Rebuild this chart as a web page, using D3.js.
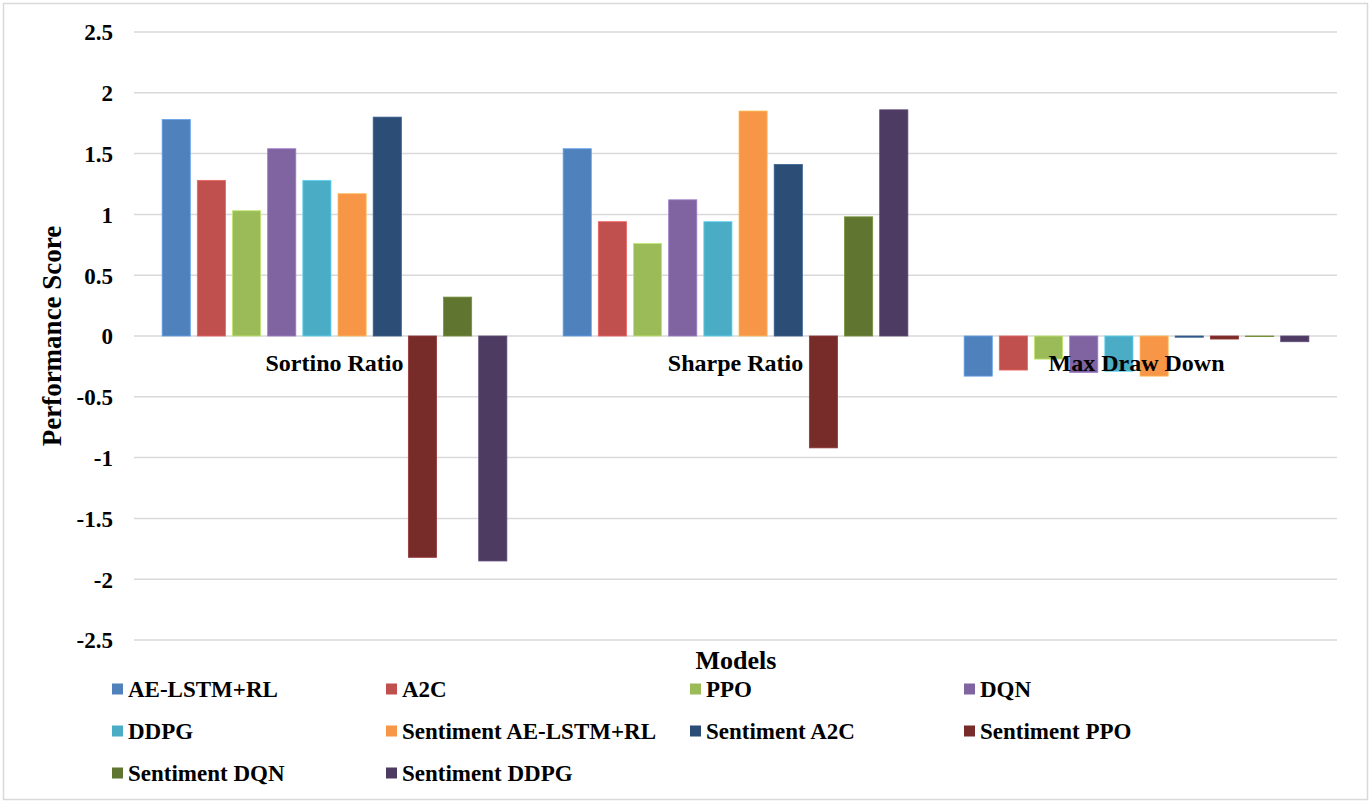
<!DOCTYPE html>
<html>
<head>
<meta charset="utf-8">
<script src="https://cdn.jsdelivr.net/npm/d3@7"></script>
<style>
  html, body { margin: 0; padding: 0; background: #fff; }
  svg text { font-family: "Liberation Serif", "Times New Roman", serif; font-weight: bold; fill: #000; }
</style>
</head>
<body>
<svg id="chart" width="1371" height="803"></svg>
<script>
// Metric groups on the x axis
const categories = ["Sortino Ratio", "Sharpe Ratio", "Max Draw Down"];

// Model series, in legend order
const seriesNames = [
  "AE-LSTM+RL", "A2C", "PPO", "DQN", "DDPG",
  "Sentiment AE-LSTM+RL", "Sentiment A2C", "Sentiment PPO", "Sentiment DQN", "Sentiment DDPG"
];

const seriesColors = [
  "#4F81BD", "#C0504D", "#9BBB59", "#8064A2", "#4BACC6",
  "#F79646", "#2C4D75", "#772C2A", "#5F7530", "#4D3B62"
];

// Scores per series: [Sortino, Sharpe, Max Draw Down]
const aeLstmRl      = [1.78, 1.54, -0.33];
const a2c           = [1.28, 0.94, -0.28];
const ppo           = [1.03, 0.76, -0.19];
const dqn           = [1.54, 1.12, -0.30];
const ddpg          = [1.28, 0.94, -0.29];
const sentAeLstmRl  = [1.17, 1.85, -0.33];
const sentA2c       = [1.80, 1.41, -0.01];
const sentPpo       = [-1.82, -0.92, -0.025];
const sentDqn       = [0.32, 0.98, -0.005];
const sentDdpg      = [-1.85, 1.86, -0.047];

const seriesValues = [aeLstmRl, a2c, ppo, dqn, ddpg, sentAeLstmRl, sentA2c, sentPpo, sentDqn, sentDdpg];

const yTicks = [2.5, 2, 1.5, 1, 0.5, 0, -0.5, -1, -1.5, -2, -2.5];

const svg = d3.select("#chart");

// outer frame
svg.append("rect")
  .attr("x", 3.5).attr("y", 3.5)
  .attr("width", 1364).attr("height", 796)
  .attr("fill", "#fff").attr("stroke", "#D9D9D9").attr("stroke-width", 1.5);

const plot = { left: 134, right: 1337, top: 32, bottom: 640 };

const x0 = d3.scaleBand().domain(categories).range([plot.left, plot.right]).padding(0);
const x1 = d3.scaleBand().domain(seriesNames).range([0, x0.bandwidth()])
  .paddingInner(0.2).paddingOuter(0.8);
const y = d3.scaleLinear().domain([-2.5, 2.5]).range([plot.bottom, plot.top]);

// horizontal gridlines
svg.append("g").selectAll("line").data(yTicks).join("line")
  .attr("x1", plot.left).attr("x2", plot.right)
  .attr("y1", d => y(d)).attr("y2", d => y(d))
  .attr("stroke", "#D9D9D9").attr("stroke-width", 1.5);

// y axis tick labels
const yAxis = d3.axisLeft(y).tickValues(yTicks).tickSize(0).tickPadding(0)
  .tickFormat(d => String(d));
svg.append("g")
  .attr("transform", `translate(113,0)`)
  .call(yAxis)
  .call(g => g.select(".domain").remove())
  .call(g => g.selectAll("text")
    .attr("font-size", 23)
    .attr("dy", "0.34em")
    .attr("font-family", "Liberation Serif, Times New Roman, serif")
    .attr("font-weight", "bold")
    .attr("fill", "#000"));

// bars
const rows = [];
seriesNames.forEach((s, i) => {
  categories.forEach((c, j) => rows.push({ series: s, cat: c, value: seriesValues[i][j], color: seriesColors[i] }));
});

svg.append("g").selectAll("rect").data(rows).join("rect")
  .attr("x", d => x0(d.cat) + x1(d.series))
  .attr("width", x1.bandwidth())
  .attr("y", d => y(Math.max(0, d.value)))
  .attr("height", d => Math.abs(y(d.value) - y(0)))
  .attr("fill", d => d.color)
  .attr("stroke", d => d3.color(d.color).brighter(0.6))
  .attr("stroke-width", 0.8);

// category labels, drawn over the bars
svg.append("g").selectAll("text").data(categories).join("text")
  .attr("x", d => x0(d) + x0.bandwidth() / 2)
  .attr("y", y(0) + 35)
  .attr("text-anchor", "middle")
  .attr("font-size", 24)
  .text(d => d);

// axis titles
svg.append("text")
  .attr("transform", `translate(61,${y(0)}) rotate(-90)`)
  .attr("text-anchor", "middle")
  .attr("font-size", 27)
  .text("Performance Score");

svg.append("text")
  .attr("x", 736).attr("y", 669)
  .attr("text-anchor", "middle")
  .attr("font-size", 26)
  .text("Models");

// legend
const legendCols = [112, 386, 690, 964];
const legendRows = [689, 731, 773];
const legend = svg.append("g").selectAll("g").data(seriesNames).join("g")
  .attr("transform", (d, i) => `translate(${legendCols[i % 4]},${legendRows[Math.floor(i / 4)]})`);
legend.append("rect")
  .attr("x", 0).attr("y", -5.5).attr("width", 11).attr("height", 11)
  .attr("fill", (d, i) => seriesColors[i]);
legend.append("text")
  .attr("x", 16).attr("y", 8)
  .attr("font-size", 23)
  .text(d => d);
</script>
</body>
</html>
